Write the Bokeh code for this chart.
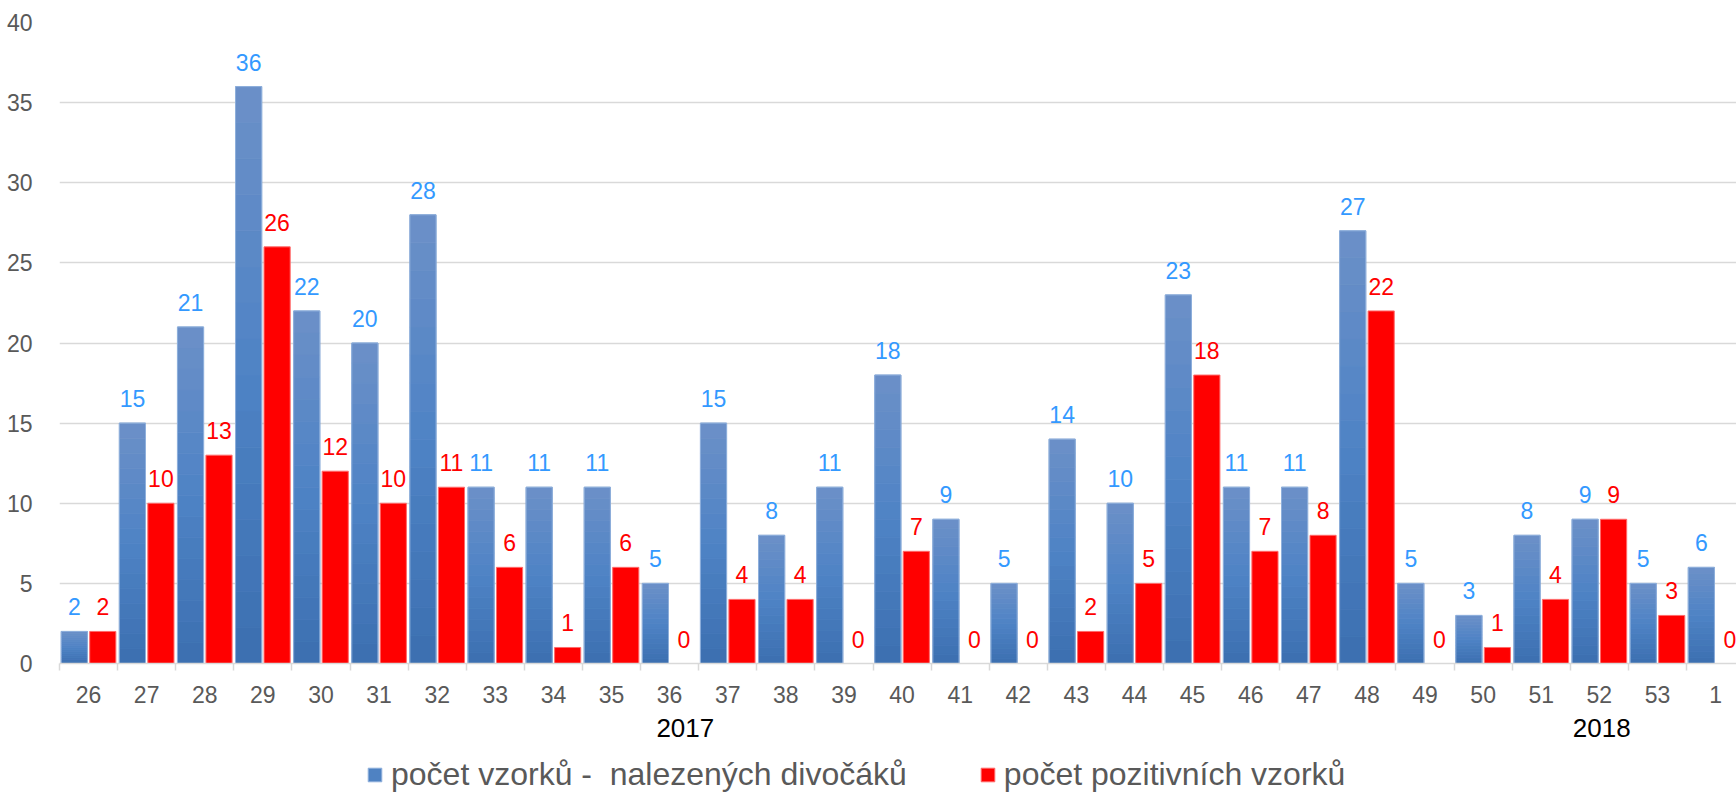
import numpy as np
from bokeh.plotting import figure
from bokeh.layouts import column
from bokeh.models import (Range1d, FixedTicker, ColumnDataSource, LabelSet,
                          Legend, LegendItem, LinearAxis)
from bokeh.core.properties import value
from bokeh.embed import file_html
from bokeh.resources import INLINE

weeks = ["26", "27", "28", "29", "30", "31", "32", "33", "34", "35", "36", "37", "38", "39",
         "40", "41", "42", "43", "44", "45", "46", "47", "48", "49", "50", "51", "52", "53", "1"]
found = [2, 15, 21, 36, 22, 20, 28, 11, 11, 11, 5, 15, 8, 11,
         18, 9, 5, 14, 10, 23, 11, 11, 27, 5, 3, 8, 9, 5, 6]
positive = [2, 10, 13, 26, 12, 10, 11, 6, 1, 6, 0, 4, 4, 0,
            7, 0, 0, 2, 5, 18, 7, 8, 22, 0, 1, 4, 9, 3, 0]
years = ["2017", "2018"]
year_anchor_week = ["36", "52"]
series_names = ["počet vzorků -  nalezených divočáků", "počet pozitivních vzorků"]

FONT = "Liberation Sans"
BLUE_LABEL = "#3399ff"
RED = "#ff0000"
n = len(weeks)
xc = np.arange(n) + 0.5
found_a = np.array(found, dtype=float)
pos_a = np.array(positive, dtype=float)

p = figure(width=1736, height=745, output_backend="svg", toolbar_location=None,
           x_range=Range1d(0, 28.86), y_range=Range1d(0, 40),
           min_border_left=59, min_border_right=0, min_border_top=22, min_border_bottom=82)
p.outline_line_color = None
p.background_fill_color = "white"

BW = 0.45
OFF = 0.245

# blue bars with vertical gradient (banded)
NB = 16
top_c = np.array([108, 144, 200])
mid_c = np.array([78, 131, 197])
bot_c = np.array([60, 111, 176])
for k in range(NB):
    t = (k + 0.5) / NB
    if t < 0.5:
        c = bot_c + (mid_c - bot_c) * (t / 0.5)
    else:
        c = mid_c + (top_c - mid_c) * ((t - 0.5) / 0.5)
    col = "#%02x%02x%02x" % tuple(int(round(v)) for v in c)
    p.vbar(x=xc - OFF, width=BW, bottom=found_a * k / NB, top=found_a * (k + 1) / NB,
           fill_color=col, line_color=col, line_width=0.8)
p.vbar(x=xc - OFF, width=BW, bottom=0, top=found_a,
       fill_alpha=0, line_color="#8fb0dc", line_width=1)
p.vbar(x=xc + OFF, width=BW, bottom=0, top=pos_a,
       fill_color=RED, line_color="#ff6a6a", line_width=1)

# value labels
src_b = ColumnDataSource(dict(x=xc - OFF, y=found_a, t=[str(v) for v in found]))
src_r = ColumnDataSource(dict(x=xc + OFF, y=pos_a, t=[str(v) for v in positive]))
for src, col in ((src_b, BLUE_LABEL), (src_r, RED)):
    p.add_layout(LabelSet(x="x", y="y", text="t", source=src, y_offset=16,
                          text_align="center", text_baseline="alphabetic",
                          text_font=value(FONT), text_font_size=value("23px"),
                          text_color=value(col)))

# axes
p.xaxis.ticker = FixedTicker(ticks=list(xc), minor_ticks=list(range(n + 1)))
p.xaxis.major_label_overrides = {float(x): w for x, w in zip(xc, weeks)}
p.xaxis.major_tick_out = 0
p.xaxis.major_tick_in = 0
p.xaxis.minor_tick_out = 7
p.xaxis.minor_tick_in = 0
p.xaxis.minor_tick_line_color = "#d9d9d9"
p.xaxis.minor_tick_line_width = 1.5
p.xaxis.axis_line_color = "#d9d9d9"
p.xaxis.axis_line_width = 1.5
p.xaxis.major_label_text_font = FONT
p.xaxis.major_label_text_font_size = "23px"
p.xaxis.major_label_text_color = "#595959"
p.xaxis.major_label_standoff = 15

# year axis (second row of category labels)
year_shift = [0.27, 0.04]
year_x = [weeks.index(wk) + 0.5 + sh for wk, sh in zip(year_anchor_week, year_shift)]
yax = LinearAxis(ticker=FixedTicker(ticks=year_x, minor_ticks=[]),
                 major_label_overrides={float(x): y for x, y in zip(year_x, years)},
                 axis_line_color=None, major_tick_line_color=None, minor_tick_line_color=None,
                 major_tick_out=0, major_tick_in=0,
                 major_label_text_font=FONT, major_label_text_font_size="26px",
                 major_label_text_color="black", major_label_standoff=13)
p.add_layout(yax, "below")

p.yaxis.ticker = FixedTicker(ticks=list(range(0, 41, 5)))
p.yaxis.axis_line_color = None
p.yaxis.major_tick_line_color = None
p.yaxis.minor_tick_line_color = None
p.yaxis.major_label_text_font = FONT
p.yaxis.major_label_text_font_size = "23px"
p.yaxis.major_label_text_color = "#595959"
p.yaxis.major_label_standoff = 21

p.xgrid.grid_line_color = None
p.ygrid.grid_line_color = "#d9d9d9"
p.ygrid.grid_line_width = 1.5

# legend strip (separate figure so the legend can sit freely below the chart)
lf = figure(width=1736, height=48, output_backend="svg", toolbar_location=None,
            x_range=Range1d(0, 1), y_range=Range1d(0, 1),
            min_border=0, min_border_left=0, min_border_right=0,
            min_border_top=0, min_border_bottom=0)
lf.axis.visible = False
lf.grid.visible = False
lf.outline_line_color = None
# swatch renderers kept outside the visible range; only their legend glyphs show
lb = lf.quad(left=[5], right=[6], top=[6], bottom=[5], fill_color="#4f82c2", line_color="#8fb0dc")
lr = lf.quad(left=[5], right=[6], top=[6], bottom=[5], fill_color=RED, line_color="#ff6a6a")
legend = Legend(items=[LegendItem(label=series_names[0], renderers=[lb]),
                       LegendItem(label=series_names[1], renderers=[lr])],
                orientation="horizontal", location=(307, 0),
                label_text_font=FONT, label_text_font_size="32px", label_text_color="#595959",
                glyph_width=17, glyph_height=17, label_standoff=8, spacing=72,
                padding=0, margin=0, border_line_color=None, background_fill_alpha=0)
lf.add_layout(legend, "center")

open("out.html", "w").write(file_html(column(p, lf, spacing=0), INLINE))
